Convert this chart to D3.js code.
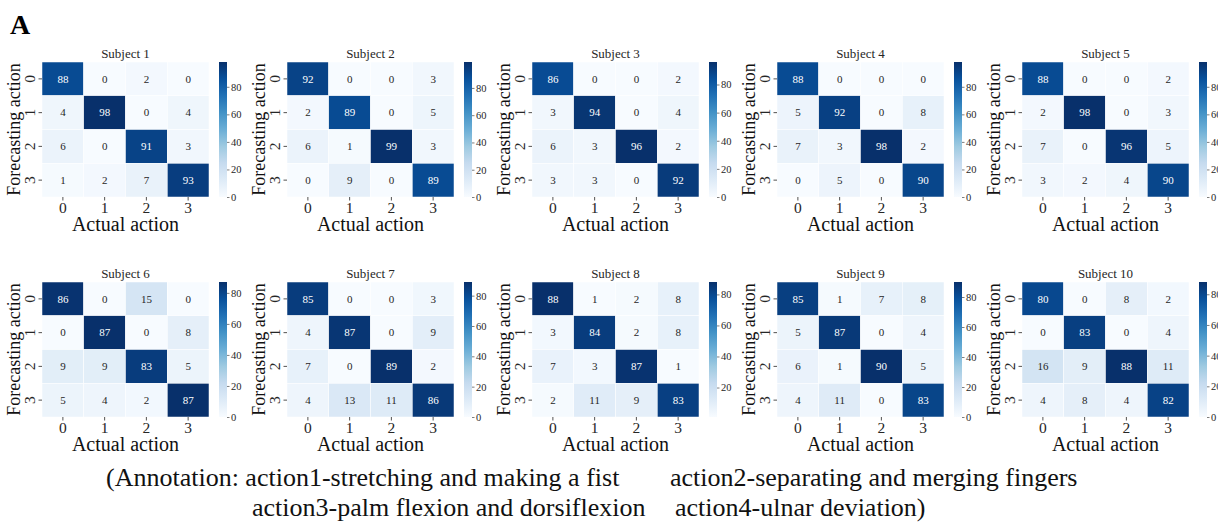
<!DOCTYPE html>
<html>
<head>
<meta charset="utf-8">
<script src="https://cdn.jsdelivr.net/npm/d3@7.9.0/dist/d3.min.js"></script>
<style>
  body { margin: 0; background: #fff; }
  text { font-family: "Liberation Serif", "Times New Roman", serif; }
</style>
</head>
<body>
<svg id="chart" width="1218" height="523"></svg>
<script>
const subjects = ['Subject 1', 'Subject 2', 'Subject 3', 'Subject 4', 'Subject 5',
                  'Subject 6', 'Subject 7', 'Subject 8', 'Subject 9', 'Subject 10'];
const actions = [0, 1, 2, 3];

// rows = forecasting action, columns = actual action
const subject1 = [[88, 0, 2, 0], [4, 98, 0, 4], [6, 0, 91, 3], [1, 2, 7, 93]];
const subject2 = [[92, 0, 0, 3], [2, 89, 0, 5], [6, 1, 99, 3], [0, 9, 0, 89]];
const subject3 = [[86, 0, 0, 2], [3, 94, 0, 4], [6, 3, 96, 2], [3, 3, 0, 92]];
const subject4 = [[88, 0, 0, 0], [5, 92, 0, 8], [7, 3, 98, 2], [0, 5, 0, 90]];
const subject5 = [[88, 0, 0, 2], [2, 98, 0, 3], [7, 0, 96, 5], [3, 2, 4, 90]];
const subject6 = [[86, 0, 15, 0], [0, 87, 0, 8], [9, 9, 83, 5], [5, 4, 2, 87]];
const subject7 = [[85, 0, 0, 3], [4, 87, 0, 9], [7, 0, 89, 2], [4, 13, 11, 86]];
const subject8 = [[88, 1, 2, 8], [3, 84, 2, 8], [7, 3, 87, 1], [2, 11, 9, 83]];
const subject9 = [[85, 1, 7, 8], [5, 87, 0, 4], [6, 1, 90, 5], [4, 11, 0, 83]];
const subject10 = [[80, 0, 8, 2], [0, 83, 0, 4], [16, 9, 88, 11], [4, 8, 4, 82]];
const matrices = [subject1, subject2, subject3, subject4, subject5,
                  subject6, subject7, subject8, subject9, subject10];

const annotationLines = [
  ['(Annotation: action1-stretching and making a fist', 'action2-separating and merging fingers'],
  ['action3-palm flexion and dorsiflexion', 'action4-ulnar deviation)']
];

// matplotlib "Blues"
const bluesStops = ['#f7fbff', '#deebf7', '#c6dbef', '#9ecae1', '#6baed6',
                    '#4292c6', '#2171b5', '#08519c', '#08306b'];
const blues = d3.scaleLinear()
  .domain(d3.range(9).map(i => i / 8))
  .range(bluesStops)
  .interpolate(d3.interpolateRgb)
  .clamp(true);

function luminance(c) {
  const rgb = d3.rgb(c);
  const lin = v => { v /= 255; return v <= 0.03928 ? v / 12.92 : Math.pow((v + 0.055) / 1.055, 2.4); };
  return 0.2126 * lin(rgb.r) + 0.7152 * lin(rgb.g) + 0.0722 * lin(rgb.b);
}

const svg = d3.select('#chart');
const defs = svg.append('defs');

const W = 167, H = 135;
const colStep = 245, rowStep = 220;
const left0 = 42, top0 = 62;

svg.append('text')
  .attr('x', 10).attr('y', 34)
  .attr('font-size', 28).attr('font-weight', 'bold')
  .text('A');

matrices.forEach((m, idx) => {
  const col = idx % 5, row = Math.floor(idx / 5);
  const g = svg.append('g')
    .attr('transform', `translate(${left0 + col * colStep},${top0 + row * rowStep})`);

  const flat = m.flat();
  const vmin = d3.min(flat), vmax = d3.max(flat);
  const norm = d3.scaleLinear().domain([vmin, vmax]).range([0, 1]);
  const color = v => blues(norm(v));

  const x = d3.scaleBand().domain(actions).range([0, W]);
  const y = d3.scaleBand().domain(actions).range([0, H]);

  const cells = [];
  m.forEach((r, i) => r.forEach((v, j) => cells.push({ i, j, v })));

  g.selectAll('rect.cell')
    .data(cells)
    .join('rect')
    .attr('class', 'cell')
    .attr('x', d => x(d.j))
    .attr('y', d => y(d.i))
    .attr('width', x.bandwidth())
    .attr('height', y.bandwidth())
    .attr('fill', d => color(d.v))
    .attr('stroke', '#ffffff')
    .attr('stroke-width', 0.5);

  g.selectAll('text.val')
    .data(cells)
    .join('text')
    .attr('class', 'val')
    .attr('x', d => x(d.j) + x.bandwidth() / 2)
    .attr('y', d => y(d.i) + y.bandwidth() / 2)
    .attr('dy', '0.35em')
    .attr('text-anchor', 'middle')
    .attr('font-size', 11)
    .attr('fill', d => luminance(color(d.v)) < 0.408 ? '#ffffff' : '#262626')
    .text(d => d.v);

  // title
  g.append('text')
    .attr('x', W / 2).attr('y', -4)
    .attr('text-anchor', 'middle')
    .attr('font-size', 13)
    .attr('fill', '#262626')
    .text(subjects[idx]);

  // x axis
  const xAxis = g.append('g')
    .attr('transform', `translate(0,${H})`)
    .call(d3.axisBottom(x).tickSize(3.5).tickPadding(1));
  xAxis.select('.domain').remove();
  xAxis.selectAll('line').attr('stroke', '#262626').attr('stroke-width', 0.8);
  xAxis.selectAll('text')
    .attr('font-size', 15.5).attr('fill', '#262626')
    .attr('font-family', '"Liberation Serif", serif');

  g.append('text')
    .attr('x', W / 2).attr('y', H + 34)
    .attr('text-anchor', 'middle')
    .attr('font-size', 20)
    .attr('fill', '#111')
    .text('Actual action');

  // y axis
  const yAxis = g.append('g')
    .call(d3.axisLeft(y).tickSize(3.5));
  yAxis.select('.domain').remove();
  yAxis.selectAll('line').attr('stroke', '#262626').attr('stroke-width', 0.8);
  yAxis.selectAll('text')
    .attr('x', null).attr('dy', null)
    .attr('transform', 'translate(-7,0) rotate(-90)')
    .attr('text-anchor', 'middle')
    .attr('font-size', 15.5).attr('fill', '#262626')
    .attr('font-family', '"Liberation Serif", serif');

  g.append('text')
    .attr('transform', `translate(-22,${H / 2}) rotate(-90)`)
    .attr('text-anchor', 'middle')
    .attr('font-size', 18)
    .attr('fill', '#111')
    .text('Forecasting action');

  // colorbar
  const gradId = `grad${idx}`;
  const grad = defs.append('linearGradient')
    .attr('id', gradId)
    .attr('x1', 0).attr('y1', 1).attr('x2', 0).attr('y2', 0);
  grad.selectAll('stop')
    .data(bluesStops)
    .join('stop')
    .attr('offset', (d, i) => i / 8)
    .attr('stop-color', d => d);

  const cbX = W + 10, cbW = 8;
  g.append('rect')
    .attr('x', cbX).attr('y', 0)
    .attr('width', cbW).attr('height', H)
    .attr('fill', `url(#${gradId})`);

  const cScale = d3.scaleLinear().domain([vmin, vmax]).range([H, 0]);
  const cTicks = d3.range(0, vmax + 1, 20).filter(t => t >= vmin);
  const cAxis = g.append('g')
    .attr('transform', `translate(${cbX + cbW},0)`)
    .call(d3.axisRight(cScale).tickValues(cTicks).tickSize(2.5).tickPadding(1.5));
  cAxis.select('.domain').remove();
  cAxis.selectAll('line').attr('stroke', '#262626').attr('stroke-width', 0.6);
  cAxis.selectAll('text')
    .attr('font-size', 10.5).attr('fill', '#262626')
    .attr('font-family', '"Liberation Serif", serif');
});

// annotation
const annX = [[106, 670], [252, 675]];
const annY = [486, 516];
annotationLines.forEach((line, li) => {
  line.forEach((t, k) => {
    svg.append('text')
      .attr('x', annX[li][k]).attr('y', annY[li])
      .attr('font-size', 26)
      .attr('fill', '#111')
      .text(t);
  });
});
</script>
</body>
</html>
